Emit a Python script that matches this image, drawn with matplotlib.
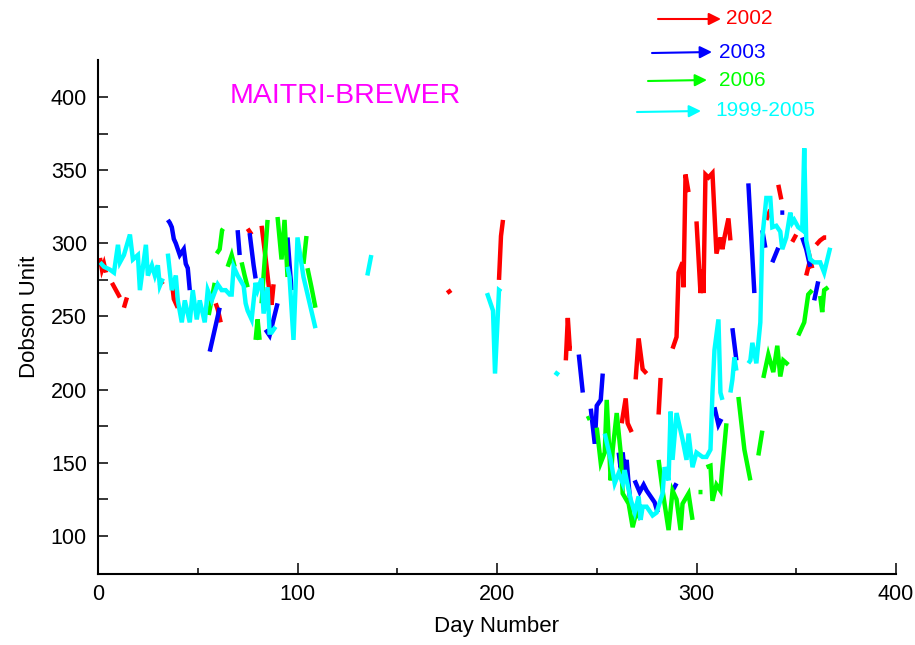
import numpy as np
import matplotlib
matplotlib.use("Agg")
import matplotlib.pyplot as plt

plt.rcParams['font.family'] = ['Liberation Sans', 'DejaVu Sans']

nan = np.nan

# 2002 (red)
day_2002 = [1, 2, 3, 4, nan, 7, 9, 11, nan, 13, 14.5, nan, 22, 24, nan, 31, 32.5, nan,
            37, 38, 40, nan, 59, 60, 61.5, nan, 75, 77, nan, 82, 84, 86, 87, 88, nan,
            175, 177, nan, 201, 202, 203, nan,
            234.5, 235.5, 236.5, 237.5, nan, 262.5, 264.5, 265.5, 267.5, nan,
            269.5, 271, 273, 275, nan, 281, 282, nan,
            288, 290, 291, 293, 293.5, 294.5, 296, nan,
            300, 302, 303, 303.5, 304.5, 306, 308, 310, 312, 313, 314, 316, 317, nan,
            335, 337, nan, 341, 342.5, nan, 348, 350, nan, 355, 357, 358, nan,
            360, 362, 364, 365]
du_2002 = [290, 282, 286, 280, nan, 273, 268, 263, nan, 256, 263, nan, 283, 287, nan, 275, 272, nan,
           274, 262, 256, nan, 259, 255, 246, nan, 310, 306, nan, 312, 290, 266, 258, 272, nan,
           266, 268, nan, 275, 305, 316, nan,
           220, 249, 228, 228, nan, 177, 194, 177, 171, nan,
           207, 235, 214, 211, nan, 183, 208, nan,
           228, 236, 280, 287, 270, 347, 335, nan,
           315, 266, 282, 266, 347, 345, 348, 293, 304, 296, 304, 317, 302, nan,
           316, 323, nan, 340, 330, nan, 301, 306, nan, 278, 289, 283, nan,
           299, 302, 304, 304]

# 2003 (blue)
day_2003 = [35, 36, 37, 38, 39, 41, 43, 44, 45, 46, nan, 56, 58, 60, 61, nan, 70, 71, nan,
            76, 78, 79, nan, 84, 86, 88, 90, nan, 95, 97, nan,
            241, 243, nan, 247, 249, 250, 252, 253, nan,
            261, 262, 263, 264, 265, 266, 267, nan,
            269, 271.5, 273.5, 275, 277.5, 279, 280.5, nan, 288, 290, nan,
            309, 311, 312.5, nan, 318, 320, nan, 326, 329, nan, 333, 334.5, nan,
            338, 341, nan, 342, 344, nan, 353, 355, 357, nan, 359, 361]
du_2003 = [316, 314, 311, 303, 300, 292, 296, 286, 283, 268, nan, 226, 238, 250, 256, nan, 309, 292, nan,
           307, 285, 276, nan, 241, 237, 248, 259, nan, 304, 268, nan,
           224, 198, nan, 187, 163, 189, 193, 211, nan,
           157, 146, 157, 143, 152, 135, 121, nan,
           138, 130, 135, 131, 126, 123, 116, nan, 131, 136, nan,
           188, 176, 180, nan, 242, 220, nan, 341, 266, nan, 309, 297, nan,
           287, 297, nan, 321, 321, nan, 304, 296, 284, nan, 261, 274]

# 2006 (green)
day_2006 = [55.5, 57, 58.5, nan, 59.5, 61, 62.2, 62.7, nan, 65, 67, 68.5, nan, 72, 73.5, 75, nan,
            79, 80, 81, nan, 82, 85, nan, 90, 92, 93.5, 95, nan, 103, 104.5, nan,
            105, 107, 109, nan, 245, 246.5, nan,
            250, 252, 254, 255, 257, 258, 260, 262, 263, 266, 268, 270, 272, nan,
            281, 283, 286, 288, 290, 292, 293, 296, 298, nan, 301, 303, nan,
            305, 307, 308, 310, 312, 313, 315, nan, 321, 324, 327, nan, 331, 333, nan,
            333.5, 336, 338.5, 340.5, 342, 343.5, 346, nan,
            351, 354, 356, 358, nan, 362, 363, 364, 366]
du_2006 = [251, 262, 273, nan, 293, 296, 309, 310, nan, 284, 292, 284, nan, 287, 278, 270, nan,
           234, 248, 234, nan, 259, 316, nan, 318, 289, 316, 277, nan, 286, 305, nan,
           283, 270, 256, nan, 180, 181, nan,
           174, 150, 157, 193, 138, 159, 184, 157, 129, 122, 106, 117, 111, nan,
           152, 131, 104, 131, 125, 104, 122, 129, 111, nan, 130, 130, nan,
           147, 148, 124, 135, 131, 147, 177, nan, 195, 159, 138, nan, 155, 172, nan,
           208, 224, 212, 230, 209, 220, 217, nan,
           237, 246, 265, 268, nan, 264, 253, 268, 270]

# 1999-2005 (cyan)
day_9905 = [1, 3, 6, 8, 10, 11, 13, 16, 17.5, 20, 21, 24, 25, 27, 28.5, 30, 31, 32.5, nan,
            35, 37, 39, 40, 42, 43.5, 46, 47.5, 49.5, 51, 53.5, 55, 57, 60, 62, 64, 66,
            67, 68, 70, 73, 74, 75, 77, 79, 80, 82, 83, 85, 86, 87, 89, nan,
            95, 96, 98, 100, 103, 109, nan, 135, 137, nan,
            195, 198, 199, 201, 202, nan, 229, 231, nan,
            254, 257, 259, 261, 263, 264, 265, 267, 269, 271, 272, 273, 275, 278, 280,
            283, 284, 286, 287, 288, 290, 293, 295, 296, 298, 300, 303, 305, 307, 308,
            309, 311, 312, 313, nan, 317, 318, 319, 320, nan,
            326, 327, 328, 330, 332, 333, 335, 337, 338, 340, 342, 343, 345, 347, 348,
            349, 351, 353, 354, 355, 357, 359, 362, 364, 367]
du_9905 = [287, 284, 282, 280, 299, 287, 292, 306, 289, 292, 268, 299, 278, 285, 278, 285, 271, 276, nan,
           293, 268, 278, 261, 246, 261, 246, 268, 248, 261, 246, 268, 261, 272, 268, 268, 265,
           265, 284, 278, 271, 259, 254, 248, 273, 268, 276, 252, 270, 239, 239, 243, nan,
           284, 277, 234, 304, 277, 242, nan, 278, 292, nan,
           266, 254, 211, 268, 267, nan, 212, 210, nan,
           170, 152, 136, 143, 136, 145, 138, 125, 116, 127, 111, 120, 120, 114, 116,
           129, 147, 138, 185, 152, 184, 166, 152, 170, 147, 157, 154, 154, 159, 198,
           227, 248, 198, 193, nan, 198, 207, 222, 213, nan,
           218, 220, 232, 218, 246, 304, 331, 331, 311, 312, 308, 296, 304, 321, 314,
           316, 311, 309, 365, 302, 289, 287, 287, 280, 297]

series = [("2002", day_2002, du_2002, "#ff0000"),
          ("2003", day_2003, du_2003, "#0000ff"),
          ("2006", day_2006, du_2006, "#00ff00"),
          ("1999-2005", day_9905, du_9905, "#00ffff")]

fig = plt.figure(figsize=(9.15, 6.45), dpi=100)
ax = fig.add_axes([98/915, 1 - 574/645, (896 - 98)/915, (574 - 60)/645])

for name, d, v, c in series:
    ax.plot(d, v, color=c, lw=3.2, solid_joinstyle='miter', solid_capstyle='butt')

ax.set_xlim(0, 400)
ax.set_ylim(74, 425.3)
ax.set_xticks([0, 100, 200, 300, 400])
ax.set_xticks([50, 150, 250, 350], minor=True)
ax.set_yticks([100, 150, 200, 250, 300, 350, 400])
ax.set_yticks([125, 175, 225, 275, 325, 375], minor=True)

for s in ['top', 'right']:
    ax.spines[s].set_visible(False)
for s in ['left', 'bottom']:
    ax.spines[s].set_linewidth(1.5)

ax.tick_params(axis='x', which='major', direction='in', length=8, width=1.1, labelsize=15.5, pad=7)
ax.tick_params(axis='x', which='minor', direction='in', length=4.5, width=1.1)
ax.tick_params(axis='y', which='both', direction='in', length=7.5, width=1.1, labelsize=15.5, pad=8)

ax.set_xlabel("Day Number", fontsize=16, labelpad=8)
ax.set_ylabel("Dobson Unit", fontsize=16, labelpad=8)

ax.text(124, 401, "MAITRI-BREWER", color="#ff00ff", fontsize=20.5, ha='center', va='center')

# legend: arrows with labels in figure pixel positions
leg = [((658, 19), (721, 19), (726, 18)),
       ((652, 53), (712, 52), (719, 53)),
       ((648, 81), (707, 80), (719, 81)),
       ((637, 112), (701, 111), (715, 110))]
for (name, d, v, c), (p0, p1, pt) in zip(series, leg):
    fig.add_artist(matplotlib.patches.FancyArrowPatch(
        (p0[0]/915, 1 - p0[1]/645), (p1[0]/915, 1 - p1[1]/645),
        transform=fig.transFigure, arrowstyle='-|>', mutation_scale=18,
        color=c, lw=1.5, shrinkA=0, shrinkB=0))
    fig.text(pt[0]/915, 1 - pt[1]/645, name, color=c, fontsize=15, ha='left', va='center')

fig.savefig("out.png", dpi=100)
